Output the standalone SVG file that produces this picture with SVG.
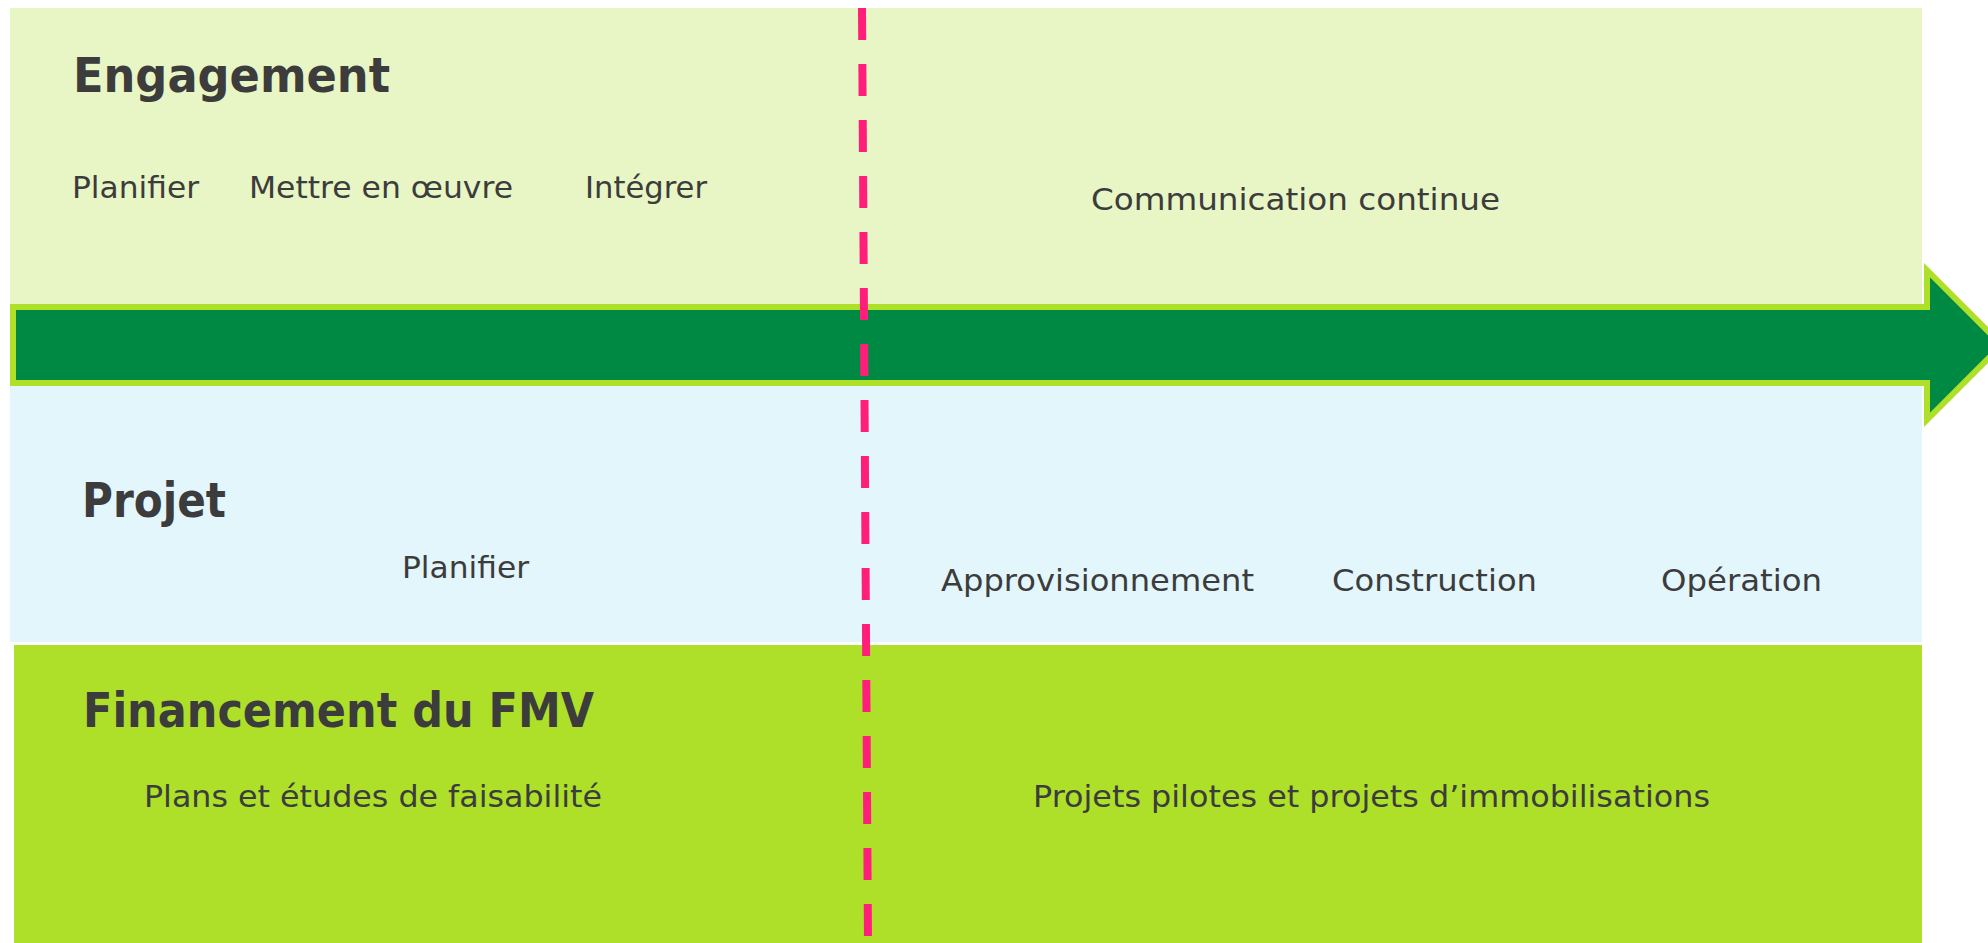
<svg xmlns="http://www.w3.org/2000/svg" width="1988" height="943" viewBox="0 0 1988 943">
  <style>
    .title { font-family: "DejaVu Sans", "Liberation Sans", sans-serif; font-weight: bold; font-size: 48px; fill: #3c3c3c; }
    .label { font-family: "DejaVu Sans", "Liberation Sans", sans-serif; font-size: 31px; fill: #3c3c3c; }
    .band-engagement { fill: #e8f5c5; }
    .band-projet { fill: #e2f6fc; }
    .band-financement { fill: #aee02a; }
    .arrow { fill: #008943; stroke: #aee02a; stroke-width: 6; stroke-linejoin: miter; stroke-miterlimit: 4; }
    .divider { stroke: #ff1f7a; stroke-width: 8; stroke-dasharray: 32 24; fill: none; }
  </style>
  <rect x="0" y="0" width="1988" height="943" fill="#ffffff"/>

  <g id="engagement">
    <rect class="band-engagement" x="10" y="8" width="1912" height="300"/>
    <text class="title" x="73" y="92" textLength="317" lengthAdjust="spacingAndGlyphs">Engagement</text>
    <text class="label" x="72" y="198" textLength="127" lengthAdjust="spacingAndGlyphs">Planifier</text>
    <text class="label" x="249" y="198" textLength="264" lengthAdjust="spacingAndGlyphs">Mettre en œuvre</text>
    <text class="label" x="585" y="198" textLength="122" lengthAdjust="spacingAndGlyphs">Intégrer</text>
    <text class="label" x="1091" y="210" textLength="409" lengthAdjust="spacingAndGlyphs">Communication continue</text>
  </g>

  <g id="projet">
    <rect class="band-projet" x="10" y="382" width="1912" height="260"/>
    <text class="title" x="82" y="517" textLength="144" lengthAdjust="spacingAndGlyphs">Projet</text>
    <text class="label" x="402" y="578" textLength="127" lengthAdjust="spacingAndGlyphs">Planifier</text>
    <text class="label" x="941" y="591" textLength="313" lengthAdjust="spacingAndGlyphs">Approvisionnement</text>
    <text class="label" x="1332" y="591" textLength="205" lengthAdjust="spacingAndGlyphs">Construction</text>
    <text class="label" x="1661" y="591" textLength="161" lengthAdjust="spacingAndGlyphs">Opération</text>
  </g>

  <g id="financement">
    <rect class="band-financement" x="14" y="645" width="1908" height="298"/>
    <text class="title" x="83" y="727" textLength="511" lengthAdjust="spacingAndGlyphs">Financement du FMV</text>
    <text class="label" x="144" y="807" textLength="458" lengthAdjust="spacingAndGlyphs">Plans et études de faisabilité</text>
    <text class="label" x="1033" y="807" textLength="677" lengthAdjust="spacingAndGlyphs">Projets pilotes et projets d’immobilisations</text>
  </g>

  <g id="connectors">
    <polygon id="timeline-arrow" class="arrow" points="13,307 1927,307 1927,270.2 2001.8,345 1927,419.8 1927,383 13,383"/>
    <line id="phase-divider" class="divider" x1="862" y1="8" x2="868" y2="943"/>
  </g>
</svg>
